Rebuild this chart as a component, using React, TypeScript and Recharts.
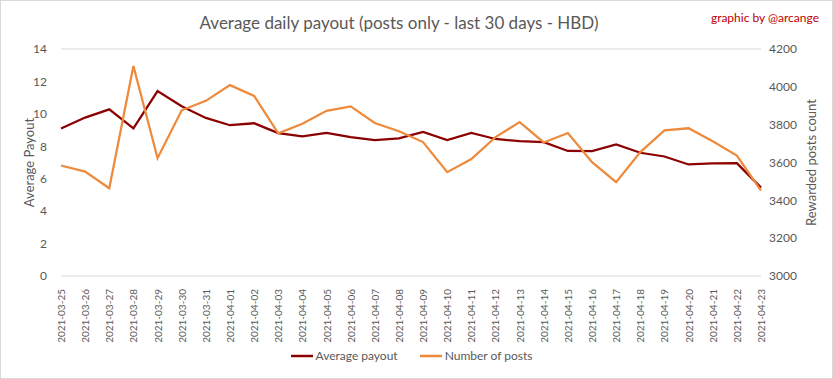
import React from "react";
import { LineChart, Line, XAxis, YAxis, CartesianGrid, Legend } from "recharts";

const dates = [
  "2021-03-25", "2021-03-26", "2021-03-27", "2021-03-28", "2021-03-29", "2021-03-30",
  "2021-03-31", "2021-04-01", "2021-04-02", "2021-04-03", "2021-04-04", "2021-04-05",
  "2021-04-06", "2021-04-07", "2021-04-08", "2021-04-09", "2021-04-10", "2021-04-11",
  "2021-04-12", "2021-04-13", "2021-04-14", "2021-04-15", "2021-04-16", "2021-04-17",
  "2021-04-18", "2021-04-19", "2021-04-20", "2021-04-21", "2021-04-22", "2021-04-23",
];

const avgPayout = [
  9.1, 9.77, 10.28, 9.1, 11.4, 10.47, 9.75, 9.3, 9.42, 8.81, 8.61, 8.82, 8.57, 8.38, 8.49,
  8.88, 8.38, 8.82, 8.45, 8.32, 8.25, 7.71, 7.7, 8.12, 7.6, 7.37, 6.88, 6.94, 6.96, 5.45,
];

const numPosts = [
  3584, 3552, 3464, 4110, 3623, 3876, 3926, 4009, 3952, 3754, 3805, 3873, 3897, 3809, 3765,
  3708, 3549, 3618, 3734, 3814, 3706, 3756, 3602, 3496, 3655, 3770, 3781, 3712, 3637, 3451,
];

const leftTicks = [0, 2, 4, 6, 8, 10, 12, 14];
const rightTicks = [3000, 3200, 3400, 3600, 3800, 4000, 4200];

const data = dates.map((d, i) => ({ date: d, payout: avgPayout[i], posts: numPosts[i] }));

const FONT = "Lato, 'Open Sans', sans-serif";
const GRAY = "#595959";

const XTick = (props: any) => {
  const { x, y, payload } = props;
  return (
    <g transform={`translate(${x},${y + 5})`}>
      <text
        transform="rotate(-90)"
        textAnchor="end"
        dy={4}
        fontSize={10}
        fill={GRAY}
        fontFamily={FONT}
      >
        {payload.value}
      </text>
    </g>
  );
};

const LegendContent = (props: any) => {
  const { payload } = props;
  return (
    <div style={{ display: "flex", justifyContent: "center", gap: 22, marginLeft: -10 }}>
      {(payload || []).map((p: any) => (
        <div key={p.value} style={{ display: "flex", alignItems: "center", gap: 3 }}>
          <svg width={22} height={10}>
            <line x1={0} y1={5} x2={22} y2={5} stroke={p.color} strokeWidth={2.5} />
          </svg>
          <span style={{ fontSize: 12, color: GRAY, fontFamily: FONT }}>{p.value}</span>
        </div>
      ))}
    </div>
  );
};

export default function App() {
  return (
    <div
      style={{
        position: "absolute",
        left: 0,
        top: 0,
        width: 833,
        height: 379,
        background: "#fff",
        border: "1px solid #d9d9d9",
        boxSizing: "border-box",
        fontFamily: FONT,
      }}
    >
      <LineChart
        width={831}
        height={377}
        data={data}
        margin={{ top: 48, right: 0, left: 0, bottom: 8 }}
      >
        <text x={398} y={28} textAnchor="middle" fontSize={17} fill={GRAY} fontFamily={FONT}>
          Average daily payout (posts only - last 30 days - HBD)
        </text>
        <text x={818} y={21} textAnchor="end" fontSize={12} fill="#c00000" fontFamily={FONT}>
          graphic by @arcange
        </text>
        <CartesianGrid vertical={false} stroke="#d9d9d9" strokeWidth={1} />
        <XAxis
          dataKey="date"
          interval={0}
          axisLine={false}
          tickLine={false}
          height={72}
          tick={<XTick />}
        />
        <YAxis
          yAxisId="left"
          domain={[0, 14]}
          ticks={leftTicks}
          width={60}
          axisLine={false}
          tickLine={false}
          tick={{ fontSize: 12, fill: GRAY, fontFamily: FONT }}
          tickMargin={8}
          label={{
            value: "Average Payout",
            angle: -90,
            position: "insideLeft",
            offset: 28,
            style: { textAnchor: "middle", fontSize: 13, fill: GRAY, fontFamily: FONT },
          }}
        />
        <YAxis
          yAxisId="right"
          orientation="right"
          domain={[3000, 4200]}
          ticks={rightTicks}
          width={71}
          axisLine={false}
          tickLine={false}
          tick={{ fontSize: 12, fill: GRAY, fontFamily: FONT }}
          tickMargin={2}
          label={{
            value: "Rewarded posts count",
            angle: -90,
            position: "insideRight",
            offset: 21,
            style: { textAnchor: "middle", fontSize: 13, fill: GRAY, fontFamily: FONT },
          }}
        />
        <Legend verticalAlign="bottom" height={22} content={<LegendContent />} />
        <Line
          yAxisId="left"
          dataKey="payout"
          name="Average payout"
          stroke="#8b0000"
          strokeWidth={2.25}
          dot={false}
          isAnimationActive={false}
        />
        <Line
          yAxisId="right"
          dataKey="posts"
          name="Number of posts"
          stroke="#ed8a3c"
          strokeWidth={2.25}
          dot={false}
          isAnimationActive={false}
        />
      </LineChart>
    </div>
  );
}
